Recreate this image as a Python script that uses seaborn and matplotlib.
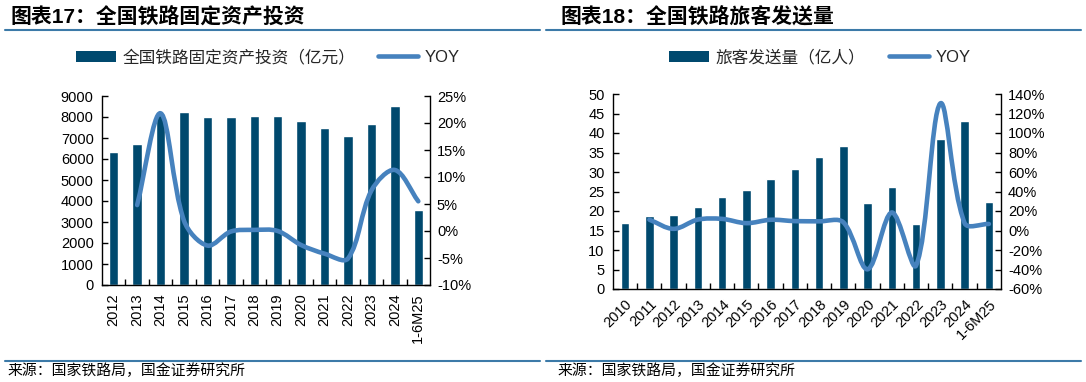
import numpy as np
import pandas as pd
import matplotlib
matplotlib.use('Agg')
import matplotlib.pyplot as plt
import seaborn as sns
from matplotlib.path import Path
from matplotlib.patches import PathPatch, Patch
from matplotlib.lines import Line2D
from matplotlib.ticker import FuncFormatter, FixedLocator

# donnees graphe 17 : investissement (亿元) + yoy (a partir de 2013)
inv_years = ['2012', '2013', '2014', '2015', '2016', '2017', '2018',
             '2019', '2020', '2021', '2022', '2023', '2024', '1-6M25']
inv_values = [6340, 6700, 8090, 8240, 8020, 8010, 8030,
              8030, 7820, 7490, 7110, 7650, 8510, 3560]
inv_yoy = [4.8, 21.8, 1.9, -2.7, -0.1, 0.2, 0.0,
           -2.6, -4.2, -5.1, 7.5, 11.3, 5.5]

# donnees graphe 18 : voyageurs (亿人) + yoy (a partir de 2011)
pax_years = ['2010', '2011', '2012', '2013', '2014', '2015', '2016', '2017',
             '2018', '2019', '2020', '2021', '2022', '2023', '2024', '1-6M25']
pax_values = [16.8, 18.6, 18.9, 21.1, 23.6, 25.4, 28.1, 30.8,
              33.8, 36.6, 22.0, 26.1, 16.7, 38.5, 43.1, 22.4]
pax_yoy = [11.1, 1.7, 11.2, 11.9, 7.5, 11.0, 9.6,
           9.4, 8.4, -39.8, 18.5, -35.9, 130.4, 7.5, 6.7]

bar_color = '#00496E'
line_color = '#4682BE'
rule_color = '#3C7AA8'

sns.set_theme(style='white')
plt.rcParams['font.family'] = ['Liberation Sans', 'Noto Sans CJK SC']
plt.rcParams['axes.unicode_minus'] = False

W, H = 1086, 382
fig = plt.figure(figsize=(W / 100, H / 100), dpi=100)


def smooth_path(xs, ys, sx, sy):
    # courbe lissee facon excel : tangentes ponderees par la longueur des segments
    # (calcul en pixels, sx/sy = pixels par unite)
    pts = np.column_stack([np.asarray(xs) * sx, np.asarray(ys) * sy]).astype(float)
    n = len(pts)
    c_out = np.zeros_like(pts)
    c_in = np.zeros_like(pts)
    for i in range(n):
        prev = pts[i - 1] if i > 0 else pts[i]
        nxt = pts[i + 1] if i < n - 1 else pts[i]
        t = nxt - prev
        d0 = np.hypot(*(pts[i] - prev))
        d1 = np.hypot(*(nxt - pts[i]))
        tot = d0 + d1 if d0 + d1 > 0 else 1
        c_out[i] = pts[i] + t * d1 / tot / 3
        c_in[i] = pts[i] - t * d0 / tot / 3
    verts = [pts[0]]
    codes = [Path.MOVETO]
    for i in range(n - 1):
        verts += [c_out[i], c_in[i + 1], pts[i + 1]]
        codes += [Path.CURVE4] * 3
    verts = np.array(verts) / np.array([sx, sy])
    return Path(verts, codes)


def draw_panel(rect, years, values, yoy, yoy_start, yticks, y2ticks, bar_w, rot):
    ax = fig.add_axes(rect)
    df = pd.DataFrame({'year': years, 'value': values})
    sns.barplot(data=df, x='year', y='value', color=bar_color, saturation=1,
                width=bar_w, errorbar=None, ax=ax)
    n = len(years)
    ax.set_xlim(-0.5, n - 0.5)
    ax.set_ylim(yticks[0], yticks[-1])
    ax.set_yticks(yticks)
    ax.set_xlabel('')
    ax.set_ylabel('')
    ax.xaxis.set_minor_locator(FixedLocator(np.arange(0.5, n - 1)))
    ax.tick_params(axis='x', which='major', length=0, labelsize=10.5, pad=6,
                   labelcolor='black')
    ax.tick_params(axis='x', which='minor', direction='in', length=4, width=1,
                   color='black', bottom=True)
    ax.tick_params(axis='y', direction='in', length=4, width=1, color='black',
                   left=True, labelsize=10.5, pad=6, labelcolor='black')
    if rot == 90:
        plt.setp(ax.get_xticklabels(), rotation=90, ha='center', va='top')
    else:
        plt.setp(ax.get_xticklabels(), rotation=45, ha='right', va='top',
                 rotation_mode='anchor')
    for s in ['left', 'bottom']:
        ax.spines[s].set_color('black')
        ax.spines[s].set_linewidth(1)
    ax.spines['top'].set_visible(False)
    ax.spines['right'].set_visible(False)

    ax2 = ax.twinx()
    xs = np.arange(yoy_start, n)
    sx = rect[2] * W / n
    sy = rect[3] * H / (y2ticks[-1] - y2ticks[0])
    ax2.add_patch(PathPatch(smooth_path(xs, yoy, sx, sy), fill=False, edgecolor=line_color,
                            lw=3.3, capstyle='round', joinstyle='round'))
    ax2.set_ylim(y2ticks[0], y2ticks[-1])
    ax2.set_yticks(y2ticks)
    ax2.yaxis.set_major_formatter(FuncFormatter(lambda v, p: f'{v:.0f}%'))
    ax2.tick_params(axis='y', direction='in', length=4, width=1, color='black',
                    right=True, labelsize=10.5, pad=5, labelcolor='black')
    for s in ['left', 'bottom', 'top']:
        ax2.spines[s].set_visible(False)
    ax2.spines['right'].set_color('black')
    ax2.spines['right'].set_linewidth(1)
    ax2.grid(False)
    ax.grid(False)
    return ax, ax2


# panneau gauche
draw_panel([102 / W, 1 - 285 / H, 328 / W, 189 / H], inv_years, inv_values, inv_yoy, 1,
           list(range(0, 9001, 1000)), list(range(-10, 26, 5)), 0.4, 90)
# panneau droit
draw_panel([613 / W, 1 - 289 / H, 388 / W, 195 / H], pax_years, pax_values, pax_yoy, 1,
           list(range(0, 51, 5)), list(range(-60, 141, 20)), 0.36, 45)

# titres
fig.text(10 / W, 1 - 17.5 / H, '图表17：全国铁路固定资产投资', fontsize=15,
         weight='bold', va='center', ha='left', color='black')
fig.text(560 / W, 1 - 17.5 / H, '图表18：全国铁路旅客发送量', fontsize=15,
         weight='bold', va='center', ha='left', color='black')

# lignes de separation
for x0, x1 in [(5, 540), (546, 1081)]:
    fig.add_artist(Line2D([x0 / W, x1 / W], [1 - 29.5 / H] * 2, color=rule_color, lw=1.5))
    fig.add_artist(Line2D([x0 / W, x1 / W], [1 - 361 / H] * 2, color=rule_color, lw=1.5))

# legendes
leg_kw = dict(loc='center', ncol=2, frameon=False, fontsize=12, handlelength=2.4,
              handleheight=0.65, handletextpad=0.4, columnspacing=1.4)
h_bar = Patch(facecolor=bar_color, edgecolor='none')
h_line = Line2D([], [], color=line_color, lw=3.3, solid_capstyle='round')
fig.legend([h_bar, h_line], ['全国铁路固定资产投资（亿元）', 'YOY'],
           bbox_to_anchor=(268 / W, 1 - 57 / H), **leg_kw)
fig.legend([h_bar, h_line], ['旅客发送量（亿人）', 'YOY'],
           bbox_to_anchor=(820 / W, 1 - 57 / H), **leg_kw)

# sources
fig.text(8 / W, 1 - 371 / H, '来源：国家铁路局，国金证券研究所', fontsize=10.7,
         va='center', ha='left', color='black')
fig.text(558 / W, 1 - 371 / H, '来源：国家铁路局，国金证券研究所', fontsize=10.7,
         va='center', ha='left', color='black')

fig.savefig('out.png', dpi=100)
